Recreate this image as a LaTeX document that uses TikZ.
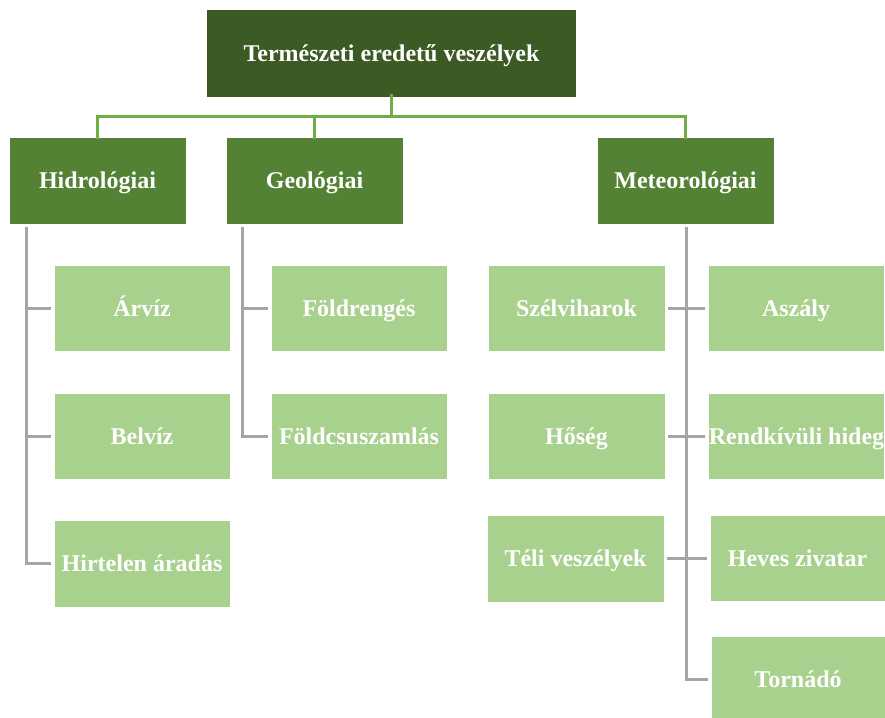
\documentclass[tikz,border=0pt]{standalone}
\usepackage{fontspec}
\setmainfont{Liberation Serif}
\definecolor{topgreen}{HTML}{3B5A24}
\definecolor{midgreen}{HTML}{548235}
\definecolor{leafgreen}{HTML}{A9D18E}
\definecolor{linkgreen}{HTML}{70AD47}
\definecolor{linkgrey}{HTML}{A5A5A5}
\begin{document}
\begin{tikzpicture}[x=1pt,y=-1pt,
  every node/.style={font=\fontsize{24}{28}\selectfont\bfseries, text=white, inner sep=0pt, text height=20pt, text depth=4pt},
  topbox/.style={rectangle, fill=topgreen, minimum width=369pt, minimum height=87pt},
  midbox/.style={rectangle, fill=midgreen, draw=white, line width=0.8pt, minimum width=177pt, minimum height=87pt},
  leafbox/.style={rectangle, fill=leafgreen, draw=white, line width=0.8pt, minimum width=176pt, minimum height=86pt},
  glink/.style={draw=linkgreen, line width=3pt},
  rlink/.style={draw=linkgrey, line width=3pt, shorten >=3pt},
]
\useasboundingbox (0,0) rectangle (885,717);
\fill[white] (0,0) rectangle (885,717);

\node[topbox] (top) at (391.5,53.5) {Természeti eredetű veszélyek};

\node[midbox] (hidro) at (97.5,180.5) {Hidrológiai};
\node[midbox] (geo) at (314.5,180.5) {Geológiai};
\node[midbox] (meteo) at (685.5,180.5) {Meteorológiai};

\node[leafbox] (arviz) at (142,308) {Árvíz};
\node[leafbox] (belviz) at (142,436) {Belvíz};
\node[leafbox, minimum height=87pt] (hirtelen) at (142,563.5) {Hirtelen áradás};

\node[leafbox] (foldrenges) at (359,308) {Földrengés};
\node[leafbox] (foldcsusz) at (359,436) {Földcsuszamlás};

\node[leafbox, minimum width=177pt] (szel) at (576.5,308) {Szélviharok};
\node[leafbox, minimum width=177pt] (hoseg) at (576.5,436) {Hőség};
\node[leafbox, minimum width=177pt, minimum height=87pt] (teli) at (575.5,558.5) {Téli veszélyek};

\node[leafbox] (aszaly) at (796,308) {Aszály};
\node[leafbox, minimum width=175pt] (hideg) at (796.5,436) {Rendkívüli hideg};
\node[leafbox, minimum width=175pt] (heves) at (797.5,558) {Heves zivatar};
\node[leafbox, minimum width=174pt] (tornado) at (798,679) {Tornádó};

% green bus
\coordinate (bus) at (0,116);
\draw[glink] ([yshift=3pt]top.south) -- (top.south |- bus);
\draw[glink] ([yshift=-2pt]hidro.north) -- (hidro.north |- bus) -- (meteo.north |- bus) -- ([yshift=-2pt]meteo.north);
\draw[glink] ([yshift=-2pt]geo.north) -- (geo.north |- bus);

% grey spines
\coordinate (hspine) at (26,227);
\coordinate (gspine) at (242,227);
\coordinate (mspine) at (686,227);

\draw[rlink] (hspine) |- (hirtelen.west);
\draw[rlink] (hspine |- arviz.west) -- (arviz.west);
\draw[rlink] (hspine |- belviz.west) -- (belviz.west);

\draw[rlink] (gspine) |- (foldcsusz.west);
\draw[rlink] (gspine |- foldrenges.west) -- (foldrenges.west);

\draw[rlink] (mspine) |- (tornado.west);
\draw[rlink] (mspine |- aszaly.west) -- (aszaly.west);
\draw[rlink] (mspine |- szel.east) -- (szel.east);
\draw[rlink] (mspine |- hideg.west) -- (hideg.west);
\draw[rlink] (mspine |- hoseg.east) -- (hoseg.east);
\draw[rlink] (mspine |- heves.west) -- (heves.west);
\draw[rlink] (mspine |- teli.east) -- (teli.east);
\end{tikzpicture}
\end{document}
